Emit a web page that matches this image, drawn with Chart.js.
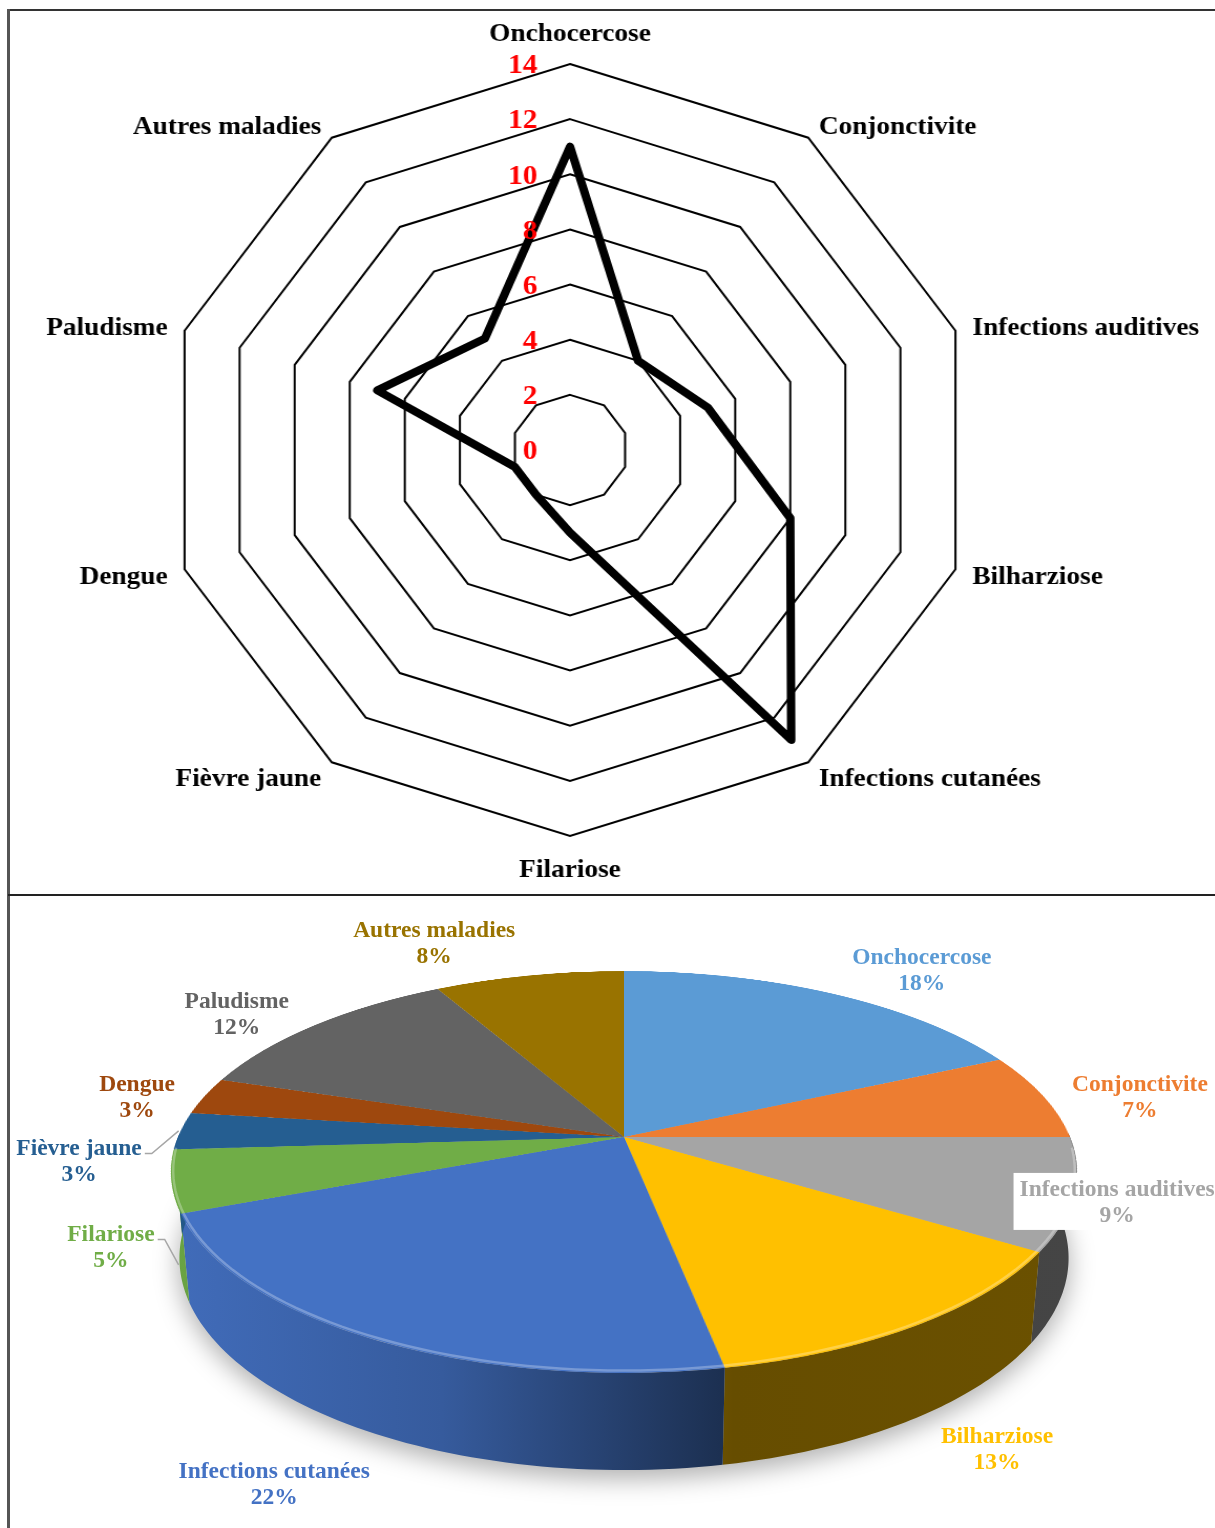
<!DOCTYPE html>
<html>
<head>
<meta charset="utf-8">
<script src="https://cdn.jsdelivr.net/npm/chart.js@4/dist/chart.umd.min.js"></script>
<style>
  html, body { margin:0; padding:0; background:#fff; overflow:hidden; }
  body { width:1215px; height:1528px; position:relative; }
  .panel { position:absolute; left:0; width:1215px; overflow:hidden; }
  .line { position:absolute; z-index:10; }
  .abs { position:absolute; left:0; top:0; }
</style>
</head>
<body>
<div class="panel" style="top:0;height:895px;">
  <canvas id="radar" width="1185" height="895" style="transform:scaleX(1.05);transform-origin:570px 0;"></canvas>
</div>
<div class="panel" style="top:896px;height:632px;">
  <canvas id="pieSide" class="abs" width="1215" height="632" style="z-index:1;"></canvas>
  <canvas id="pie" width="900" height="900" style="position:absolute;left:174px;top:-209px;z-index:2;transform-origin:450px 450px;transform:perspective(2306px) rotateX(64.1deg);"></canvas>
  <canvas id="pieLabels" class="abs" width="1215" height="632" style="z-index:3;"></canvas>
</div>
<div class="line" style="left:8px;top:9px;width:1207px;height:2px;background:#333;"></div>
<div class="line" style="left:7px;top:9px;width:3px;height:1519px;background:#555;"></div>
<div class="line" style="left:8px;top:894px;width:1207px;height:2px;background:#222;"></div>
<script>
// ---------- DATA ----------
const categories = ['Onchocercose','Conjonctivite','Infections auditives','Bilharziose','Infections cutanées','Filariose','Fièvre jaune','Dengue','Paludisme','Autres maladies'];
const radarValues = [11, 4, 5, 8, 13, 3, 2, 2, 7, 5];
const tickLabels = [0, 2, 4, 6, 8, 10, 12, 14];
const piePercents = [18, 7, 9, 13, 22, 5, 3, 3, 12, 8];
const sliceColors = ['#5B9BD5','#ED7D31','#A5A5A5','#FFC000','#4472C4','#70AD47','#255E91','#9E480E','#636363','#997300'];

// ---------- RADAR ----------
const radarText = {
  id: 'radarText',
  afterDraw(chart) {
    const s = chart.scales.r, ctx = chart.ctx;
    ctx.save();
    ctx.font = 'bold 28px "Liberation Serif"';
    ctx.fillStyle = '#FF0000';
    ctx.textAlign = 'right';
    ctx.textBaseline = 'middle';
    tickLabels.forEach(v => {
      ctx.fillText(String(v), s.xCenter - 31, s.yCenter - s.getDistanceFromCenterForValue(v) + 2);
    });
    ctx.font = 'bold 26px "Liberation Serif"';
    ctx.fillStyle = '#000';
    categories.forEach((c, i) => {
      const p = s.getPointPosition(i, s.drawingArea + 17);
      let x = p.x, y = p.y + 3;
      if (Math.abs(p.x - s.xCenter) < 1) {
        ctx.textAlign = 'center';
        y += (p.y < s.yCenter ? -16 : 14);
      } else {
        ctx.textAlign = p.x > s.xCenter ? 'left' : 'right';
      }
      ctx.fillText(c, x, y);
    });
    ctx.restore();
  }
};

new Chart(document.getElementById('radar').getContext('2d'), {
  type: 'radar',
  data: {
    labels: categories,
    datasets: [{
      data: radarValues,
      borderColor: '#000',
      borderWidth: 8,
      borderJoinStyle: 'round',
      backgroundColor: 'rgba(0,0,0,0)',
      fill: false,
      pointRadius: 0,
      pointHoverRadius: 0,
      tension: 0,
      clip: false
    }]
  },
  options: {
    responsive: false,
    animation: false,
    events: [],
    layout: { padding: { top: 64, bottom: 59, left: 184, right: 229 } },
    plugins: { legend: { display: false }, tooltip: { enabled: false } },
    scales: {
      r: {
        min: 0, max: 14,
        ticks: { stepSize: 2, display: false },
        grid: { color: '#000', lineWidth: 2, circular: false },
        angleLines: { display: false },
        pointLabels: { display: false }
      }
    }
  },
  plugins: [radarText]
});

// ---------- PIE (3D look: the disc is tilted with CSS perspective) ----------
const PERSP = 2306, TILT = 64.1 * Math.PI / 180, CA = Math.cos(TILT), SA = Math.sin(TILT);
const THICK = 96;            // thickness of the disc
const OX = 624, OY = 241;    // projected disc centre inside the lower panel
// label block offsets from each slice's rim point (layout only)
const labelOffsets = [[89.5,-22.6],[96.6,1.5],[43,8.3],[80.2,124.7],[-96.3,146.6],[-60.6,66.3],[-101.6,30.6],[-67.6,1.5],[-77.9,-10.2],[-94.9,-31.4]];

function project(dx, dy, dz) {
  const yr = dy * CA + dz * SA;
  const zr = dy * SA - dz * CA;
  const w = 1 - zr / PERSP;
  return [OX + dx / w, OY + yr / w];
}
function rim(R, t, dz) { return project(R * Math.cos(t), R * Math.sin(t), dz); }

function shade(hex, f) {
  const n = parseInt(hex.slice(1), 16);
  const r = (n >> 16) & 255, g = (n >> 8) & 255, b = n & 255;
  return `rgb(${Math.round(r*f)},${Math.round(g*f)},${Math.round(b*f)})`;
}

const pie3d = {
  id: 'pie3d',
  afterDraw(chart) {
    const arcs = chart.getDatasetMeta(0).data;
    const R = arcs[0].outerRadius;
    const sc = document.getElementById('pieSide').getContext('2d');
    const lc = document.getElementById('pieLabels').getContext('2d');
    sc.clearRect(0, 0, 1215, 632);
    lc.clearRect(0, 0, 1215, 632);
    // soft shadow
    sc.save();
    sc.filter = 'blur(12px)';
    sc.fillStyle = 'rgba(0,0,0,0.30)';
    sc.beginPath();
    for (let k = 0; k <= 120; k++) {
      const [x, y] = rim(R + 2, k / 120 * Math.PI * 2, THICK + 8);
      k ? sc.lineTo(x, y) : sc.moveTo(x, y);
    }
    sc.closePath();
    sc.fill();
    sc.restore();
    // sides of the front slices
    const xl = OX - R * 1.02, xr = OX + R * 1.02;
    arcs.forEach((a, i) => {
      const lo = Math.max(a.startAngle, -0.02), hi = Math.min(a.endAngle, Math.PI + 0.02);
      if (hi <= lo) return;
      const n = 60;
      sc.beginPath();
      for (let k = 0; k <= n; k++) {
        const [x, y] = rim(R, lo + (hi - lo) * k / n, 0);
        k ? sc.lineTo(x, y) : sc.moveTo(x, y);
      }
      for (let k = n; k >= 0; k--) {
        const [x, y] = rim(R, lo + (hi - lo) * k / n, THICK);
        sc.lineTo(x, y);
      }
      sc.closePath();
      const g = sc.createLinearGradient(xl, 0, xr, 0);
      const c = sliceColors[i];
      g.addColorStop(0, shade(c, 0.95));
      g.addColorStop(0.3, shade(c, 0.8));
      g.addColorStop(0.62, shade(c, 0.4));
      g.addColorStop(1, shade(c, 0.42));
      sc.fillStyle = g;
      sc.fill();
    });
    // light rim along the front edge
    lc.save();
    lc.strokeStyle = 'rgba(255,255,255,0.28)';
    lc.lineWidth = 2.5;
    lc.beginPath();
    for (let k = 0; k <= 100; k++) {
      const [x, y] = rim(R - 2, 0.06 + (Math.PI - 0.12) * k / 100, 0);
      k ? lc.lineTo(x, y - 1) : lc.moveTo(x, y - 1);
    }
    lc.stroke();
    lc.restore();
    // labels
    lc.save();
    lc.font = 'bold 23.5px "Liberation Serif"';
    lc.textAlign = 'center';
    lc.textBaseline = 'middle';
    arcs.forEach((a, i) => {
      const mid = (a.startAngle + a.endAngle) / 2;
      const [ex, ey] = rim(R, mid, 0);
      const lx = ex + labelOffsets[i][0], ly = ey + labelOffsets[i][1];
      const name = categories[i], pct = piePercents[i] + '%';
      const w = lc.measureText(name).width;
      if (i === 2) {
        lc.fillStyle = '#fff';
        lc.fillRect(lx - w / 2 - 6, ly - 29.5, w + 12, 57);
      }
      if (i === 5 || i === 6) {
        const sx = lx + w / 2 + 3, sy0 = ly - 8;
        const [tx, ty] = (i === 5)
          ? rim(R, a.startAngle + 0.3 * (a.endAngle - a.startAngle), THICK * 0.8)
          : rim(R, mid, 0);
        lc.strokeStyle = '#A6A6A6';
        lc.lineWidth = 1.5;
        lc.beginPath();
        lc.moveTo(sx, sy0);
        lc.lineTo(sx + 7, sy0);
        lc.lineTo(tx - 2, ty);
        lc.stroke();
      }
      lc.fillStyle = sliceColors[i];
      lc.fillText(name, lx, ly - 13);
      lc.fillText(pct, lx, ly + 13);
    });
    lc.restore();
  }
};

new Chart(document.getElementById('pie').getContext('2d'), {
  type: 'pie',
  data: {
    labels: categories,
    datasets: [{
      data: piePercents,
      backgroundColor: sliceColors,
      borderWidth: 0,
      radius: 446
    }]
  },
  options: {
    responsive: false,
    animation: false,
    events: [],
    rotation: 0,
    layout: { padding: 0 },
    plugins: { legend: { display: false }, tooltip: { enabled: false } }
  },
  plugins: [pie3d]
});
</script>
</body>
</html>
